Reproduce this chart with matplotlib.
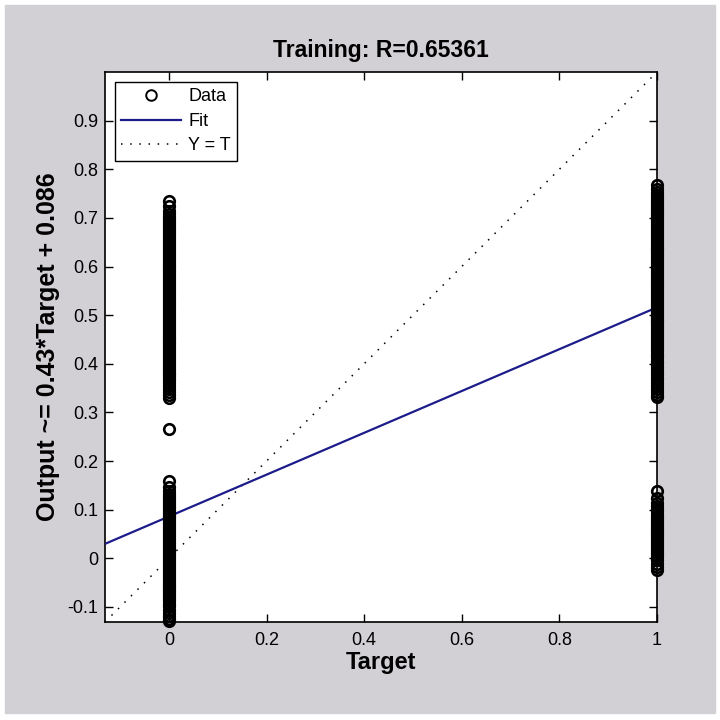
import matplotlib
matplotlib.use('Agg')
import matplotlib.pyplot as plt
from matplotlib.patches import Rectangle

# ── Data ────────────────────────────────────────────────────
# outputs for samples with target 0 (upper group, lone point, lower group)
out_t0 = [0.735, 0.724, 0.714, 0.707, 0.702, 0.698, 0.694, 0.690, 0.686, 0.682,
          0.678, 0.674, 0.670, 0.666, 0.662, 0.658, 0.654, 0.650, 0.646, 0.642,
          0.638, 0.634, 0.630, 0.626, 0.622, 0.618, 0.614, 0.610, 0.606, 0.602,
          0.598, 0.594, 0.590, 0.586, 0.582, 0.578, 0.574, 0.570, 0.566, 0.562,
          0.558, 0.554, 0.550, 0.546, 0.542, 0.538, 0.534, 0.530, 0.526, 0.522,
          0.518, 0.514, 0.510, 0.506, 0.502, 0.498, 0.494, 0.490, 0.486, 0.482,
          0.478, 0.474, 0.470, 0.466, 0.462, 0.458, 0.454, 0.450, 0.446, 0.442,
          0.438, 0.434, 0.430, 0.426, 0.422, 0.418, 0.414, 0.410, 0.406, 0.402,
          0.398, 0.394, 0.390, 0.386, 0.382, 0.378, 0.374, 0.370, 0.366, 0.361,
          0.355, 0.349, 0.342, 0.335, 0.329,
          0.265,
          0.158, 0.147, 0.139, 0.133, 0.128, 0.124, 0.120, 0.116, 0.112, 0.108,
          0.104, 0.100, 0.096, 0.092, 0.088, 0.084, 0.080, 0.076, 0.072, 0.068,
          0.064, 0.060, 0.056, 0.052, 0.048, 0.044, 0.040, 0.036, 0.032, 0.028,
          0.024, 0.020, 0.016, 0.012, 0.008, 0.004, 0.000, -0.004, -0.008,
          -0.012, -0.016, -0.020, -0.024, -0.028, -0.032, -0.036, -0.040,
          -0.044, -0.048, -0.052, -0.056, -0.060, -0.064, -0.068, -0.072,
          -0.076, -0.080, -0.084, -0.088, -0.093, -0.099, -0.106, -0.113,
          -0.119, -0.124, -0.128]
# outputs for samples with target 1 (upper group, lower group)
out_t1 = [0.768, 0.760, 0.753, 0.748, 0.743, 0.739, 0.735, 0.731, 0.727, 0.723,
          0.719, 0.715, 0.711, 0.707, 0.703, 0.699, 0.695, 0.691, 0.687, 0.683,
          0.679, 0.675, 0.671, 0.667, 0.663, 0.659, 0.655, 0.651, 0.647, 0.643,
          0.639, 0.635, 0.631, 0.627, 0.623, 0.619, 0.615, 0.611, 0.607, 0.603,
          0.599, 0.595, 0.591, 0.587, 0.583, 0.579, 0.575, 0.571, 0.567, 0.563,
          0.559, 0.555, 0.551, 0.547, 0.543, 0.539, 0.535, 0.531, 0.527, 0.523,
          0.519, 0.515, 0.511, 0.507, 0.503, 0.499, 0.495, 0.491, 0.487, 0.483,
          0.479, 0.475, 0.471, 0.467, 0.463, 0.459, 0.455, 0.451, 0.447, 0.443,
          0.439, 0.435, 0.431, 0.426, 0.421, 0.416, 0.411, 0.406, 0.401, 0.396,
          0.391, 0.386, 0.381, 0.376, 0.371, 0.366, 0.360, 0.354, 0.348, 0.342,
          0.336, 0.331,
          0.139, 0.124, 0.114, 0.107, 0.102, 0.097, 0.092, 0.087, 0.083, 0.079,
          0.075, 0.071, 0.067, 0.063, 0.059, 0.055, 0.051, 0.047, 0.043, 0.039,
          0.035, 0.031, 0.027, 0.023, 0.019, 0.015, 0.011, 0.007, 0.002, -0.004,
          -0.011, -0.018, -0.025]

slope = 0.43
offset = 0.086
r_value = 0.65361
lims = (-0.131, 1.0)
x_ticks = [0, 0.2, 0.4, 0.6, 0.8, 1]
x_ticklabels = ['0', '0.2', '0.4', '0.6', '0.8', '1']
y_ticks = [-0.1, 0, 0.1, 0.2, 0.3, 0.4, 0.5, 0.6, 0.7, 0.8, 0.9]
y_ticklabels = ['-0.1', '0', '0.1', '0.2', '0.3', '0.4', '0.5', '0.6', '0.7', '0.8', '0.9']

GRAY = '#d3d0d5'
BLUE = '#1c1c8a'

plt.rcParams.update({
    'font.family': 'Liberation Sans',
    'font.size': 13,
})

fig = plt.figure(figsize=(7.2, 7.2), dpi=100)
fig.patch.set_facecolor('white')
fig.patches.append(Rectangle((5 / 720, 7 / 720), 710 / 720, 708 / 720,
                             transform=fig.transFigure, color=GRAY, zorder=-10))

ax = fig.add_axes([105 / 720, 1 - 622 / 720, 552 / 720, 550 / 720])
ax.set_facecolor('white')

xs = [0] * len(out_t0) + [1] * len(out_t1)
ys = out_t0 + out_t1
ax.plot(xs, ys, linestyle='none', marker='o', markersize=7.6,
        markerfacecolor='none', markeredgecolor='black', markeredgewidth=1.9,
        label='Data', zorder=4, clip_on=False)

ax.plot(list(lims), [slope * v + offset for v in lims], color=BLUE, lw=1.6,
        label='Fit', zorder=3)
ax.plot(list(lims), list(lims), color='black', lw=1.1, linestyle=(0, (1, 5)),
        label='Y = T', zorder=2)

ax.set_xlim(lims)
ax.set_ylim(lims)
ax.set_xticks(x_ticks)
ax.set_xticklabels(x_ticklabels)
ax.set_yticks(y_ticks)
ax.set_yticklabels(y_ticklabels)
ax.tick_params(direction='in', length=6, width=1, top=True, right=True,
               labelsize=13, pad=7)
ax.tick_params(axis='y', pad=5)
for s in ax.spines.values():
    s.set_linewidth(1.2)

ax.set_title('Training: R=%.5f' % r_value, fontsize=16.5, fontweight='bold', pad=11)
ax.set_xlabel('Target', fontsize=17, fontweight='bold', labelpad=2)
ax.set_ylabel('Output ~= %.2g*Target + %.2g' % (slope, offset), fontsize=18,
              fontweight='bold', labelpad=5)

leg = ax.legend(loc='upper left', bbox_to_anchor=(10 / 552, 1 - 10 / 550),
                fontsize=13, fancybox=False, shadow=False, framealpha=1,
                edgecolor='black', borderaxespad=0, handlelength=3.3,
                handletextpad=0.4, labelspacing=0.42, borderpad=0.35)
leg.get_frame().set_linewidth(1.0)
for h in leg.legend_handles:
    h.set_markeredgewidth(1.4)

fig.savefig('out.png', dpi=100)
